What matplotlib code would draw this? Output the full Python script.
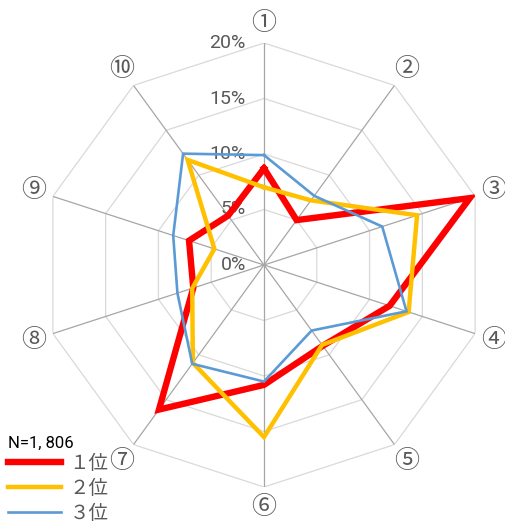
import numpy as np
import matplotlib.pyplot as plt
from matplotlib.lines import Line2D

axis_labels = ["①", "②", "③", "④", "⑤", "⑥", "⑦", "⑧", "⑨", "⑩"]
rank1 = [8.7, 5.0, 19.5, 11.9, 9.0, 10.8, 16.1, 6.7, 7.1, 5.5]
rank2 = [7.0, 7.2, 14.5, 13.7, 8.9, 15.5, 10.9, 6.8, 4.7, 11.7]
rank3 = [9.9, 7.7, 11.2, 13.5, 7.3, 10.5, 11.0, 8.2, 8.6, 12.4]
series_names = ["１位", "２位", "３位"]
ticks = [0, 5, 10, 15, 20]
tick_labels = ["0%", "5%", "10%", "15%", "20%"]
sample_note = "N=1, 806"

colors = ["#FF0000", "#FFC000", "#5B9BD5"]
widths = [4.6, 3.2, 1.9]
grey = "#595959"
cjk = ["Noto Sans CJK JP", "DejaVu Sans"]

W, H = 506, 523
fig = plt.figure(figsize=(W / 100, H / 100), dpi=100)
cx, cy, R = 264, 265, 222
ax = fig.add_axes([(cx - R) / W, (H - cy - R) / H, 2 * R / W, 2 * R / H],
                  projection="polar")
ax.set_theta_zero_location("N")
ax.set_theta_direction(-1)
ax.set_ylim(0, 20)
ax.grid(False)
ax.set_xticks([])
ax.set_yticks([])
ax.spines["polar"].set_visible(False)
ax.patch.set_alpha(0)

n = len(axis_labels)
angles = np.arange(n) * 2 * np.pi / n
closed = np.append(angles, angles[0])

# decagon grid rings and spokes
for t in ticks[1:]:
    ax.plot(closed, [t] * (n + 1), color="#D9D9D9", lw=0.9, zorder=1)
for a in angles:
    ax.plot([a, a], [0, 20], color="#A6A6A6", lw=0.9, zorder=1)

for vals, c, w in zip([rank1, rank2, rank3], colors, widths):
    ax.plot(closed, vals + vals[:1], color=c, lw=w, zorder=3,
            solid_joinstyle="miter")

for t, lab in zip(ticks, tick_labels):
    ax.annotate(lab, xy=(0, t), xytext=(-13, 0), textcoords="offset points",
                ha="right", va="center", fontsize=14, color=grey,
                family="Roboto", zorder=2)

for a, lab in zip(angles, axis_labels):
    ax.text(a, 21.8, lab, ha="center", va="center", fontsize=18,
            color=grey, family=cjk)

fig.text(8 / W, 1 - 443 / H, sample_note, ha="left", va="center",
         fontsize=12, color="black", family="Roboto")

handles = [Line2D([], [], color=c, lw=w) for c, w in zip(colors, widths)]
fig.legend(handles, series_names, loc="upper left",
           bbox_to_anchor=(8 / W, 1 - 453 / H), frameon=False,
           borderpad=0, borderaxespad=0, handlelength=2.7,
           handletextpad=0.45, labelspacing=0.2,
           prop={"family": cjk, "size": 14}, labelcolor=grey)

fig.savefig("out.png", dpi=100)
